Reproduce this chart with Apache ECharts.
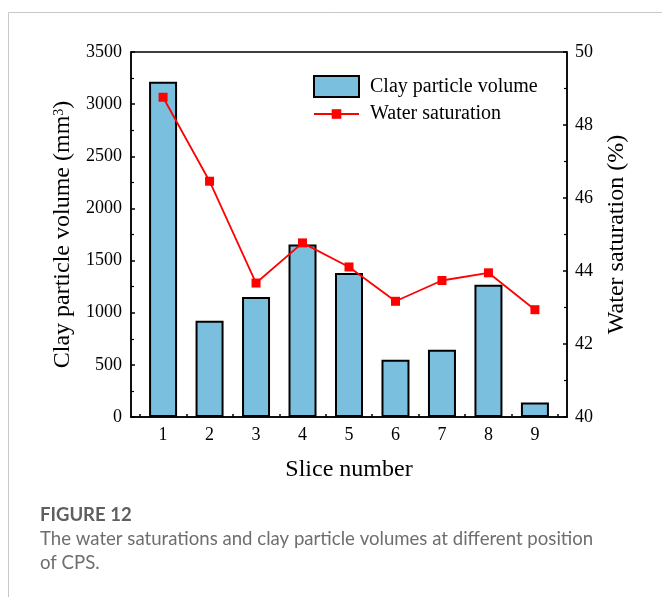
<!DOCTYPE html>
<html>
<head>
<meta charset="utf-8">
<script src="https://cdn.jsdelivr.net/npm/echarts@6/dist/echarts.min.js"></script>
<style>
html,body{margin:0;padding:0;background:#fff;}
#chart{width:662px;height:597px;}
</style>
</head>
<body>
<div id="chart"></div>
<script>
const categories = [1, 2, 3, 4, 5, 6, 7, 8, 9];
const clayVolume = [3214, 923, 1151, 1654, 1382, 548, 644, 1269, 138];
const waterSaturation = [48.76, 46.46, 43.67, 44.77, 44.11, 43.17, 43.74, 43.95, 42.94];
const leftTicks = [0, 500, 1000, 1500, 2000, 2500, 3000, 3500];
const rightTicks = [40, 42, 44, 46, 48, 50];
const betweenTicks = [0.5, 1.5, 2.5, 3.5, 4.5, 5.5, 6.5, 7.5, 8.5, 9.5];

const serif = 'Liberation Serif';
const chart = echarts.init(document.getElementById('chart'));
const axisLine = { show: true, lineStyle: { color: '#000', width: 1.5 } };

chart.setOption({
  animation: false,
  grid: { left: 131, right: 95, top: 52, bottom: 180, show: true, borderColor: '#000', borderWidth: 1.5, backgroundColor: 'transparent' },
  legend: [
    { data: ['Clay particle volume'], icon: 'rect', left: 313, top: 75, itemWidth: 45, itemHeight: 21, padding: 0,
      itemStyle: { borderColor: '#000', borderWidth: 2 },
      textStyle: { fontFamily: serif, fontSize: 20, color: '#000', padding: [0, 0, 0, 6] } },
    { data: ['Water saturation'], left: 313, top: 104, itemWidth: 45, itemHeight: 12, padding: 0,
      textStyle: { fontFamily: serif, fontSize: 20, color: '#000', padding: [0, 0, 0, 6] } }
  ],
  xAxis: {
    type: 'value', min: 0.31, max: 9.69,
    name: 'Slice number', nameLocation: 'middle', nameGap: 41,
    nameTextStyle: { fontFamily: serif, fontSize: 24, color: '#000' },
    axisLine: axisLine,
    axisTick: { show: true, inside: true, length: 3, customValues: betweenTicks, lineStyle: { color: '#000', width: 1.5 } },
    axisLabel: { customValues: categories, fontFamily: serif, fontSize: 18, color: '#000', margin: 9 },
    splitLine: { show: false }
  },
  yAxis: [
    {
      type: 'value', min: 0, max: 3500, interval: 500,
      name: 'Clay particle volume (mm{sup|3})', nameLocation: 'middle', nameGap: 46,
      nameTextStyle: { fontFamily: serif, fontSize: 24, color: '#000',
        rich: { sup: { fontFamily: serif, fontSize: 14, color: '#000', padding: [0, 0, 8, 0] } } },
      axisLine: axisLine,
      axisTick: { show: true, inside: true, length: 4, lineStyle: { color: '#000', width: 1.5 } },
      minorTick: { show: true, splitNumber: 2, length: 3, lineStyle: { color: '#000', width: 1.2 } },
      axisLabel: { fontFamily: serif, fontSize: 18, color: '#000', margin: 9,
        customValues: leftTicks, formatter: v => String(v) },
      splitLine: { show: false }
    },
    {
      type: 'value', min: 40, max: 50, interval: 2, position: 'right',
      name: 'Water saturation (%)', nameLocation: 'middle', nameGap: 38,
      nameTextStyle: { fontFamily: serif, fontSize: 24, color: '#000' },
      axisLine: axisLine,
      axisTick: { show: true, inside: true, length: 4, lineStyle: { color: '#000', width: 1.5 } },
      minorTick: { show: true, splitNumber: 2, length: 3, lineStyle: { color: '#000', width: 1.2 } },
      axisLabel: { fontFamily: serif, fontSize: 18, color: '#000', margin: 8, customValues: rightTicks },
      splitLine: { show: false }
    }
  ],
  series: [
    {
      name: 'Clay particle volume', type: 'bar', barWidth: 28,
      data: categories.map((c, i) => [c, clayVolume[i]]),
      itemStyle: { color: '#7bbfdf', borderColor: '#000', borderWidth: 2 }
    },
    {
      name: 'Water saturation', type: 'line', yAxisIndex: 1,
      data: categories.map((c, i) => [c, waterSaturation[i]]),
      symbol: 'rect', symbolSize: 9,
      lineStyle: { color: '#ff0000', width: 1.8 },
      itemStyle: { color: '#ff0000' }
    }
  ],
  graphic: [
    { type: 'line', shape: { x1: 8.5, y1: 12.5, x2: 662, y2: 12.5 }, style: { stroke: '#c8c8c8', lineWidth: 1 } },
    { type: 'line', shape: { x1: 8.5, y1: 12.5, x2: 8.5, y2: 597 }, style: { stroke: '#c8c8c8', lineWidth: 1 } },
    { type: 'text', x: 40, y: 515, style: { text: 'FIGURE 12', fontFamily: 'Lato', fontWeight: 'bold', fontSize: 18.5, fill: '#5f5f5f', verticalAlign: 'middle' } },
    { type: 'text', x: 40, y: 539, style: { text: 'The water saturations and clay particle volumes at different position', fontFamily: 'Lato', fontSize: 18.6, fill: '#6e6e6e', verticalAlign: 'middle' } },
    { type: 'text', x: 40, y: 563, style: { text: 'of CPS.', fontFamily: 'Lato', fontSize: 18.6, fill: '#6e6e6e', verticalAlign: 'middle' } }
  ]
});
</script>
</body>
</html>
